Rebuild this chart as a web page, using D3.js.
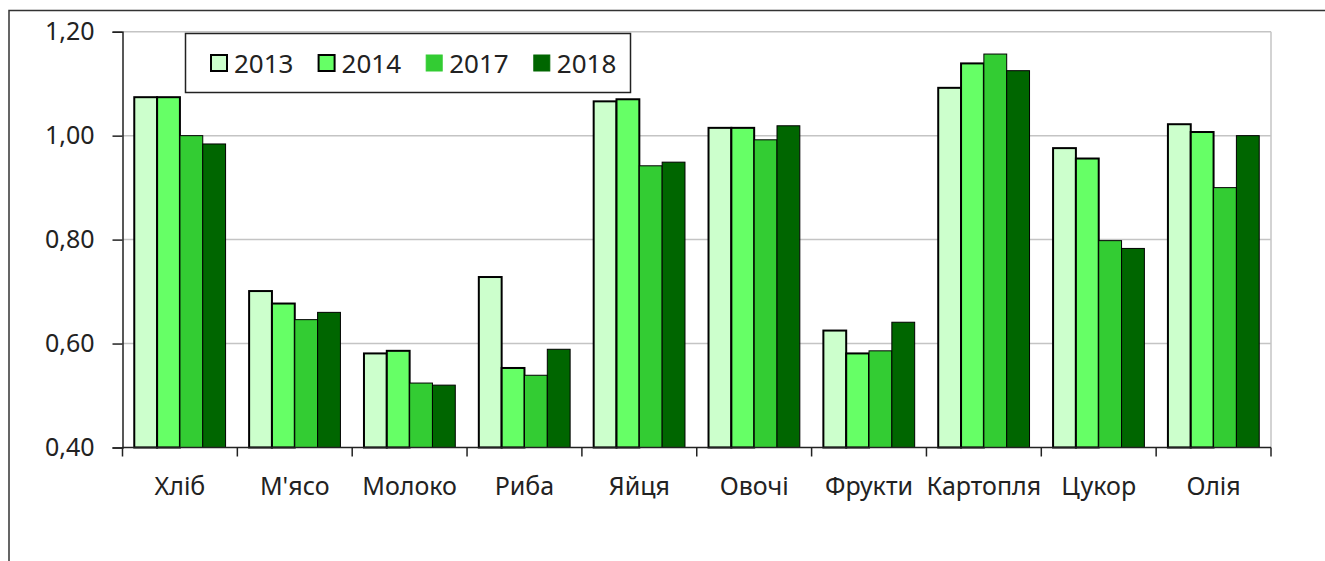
<!DOCTYPE html>
<html>
<head>
<meta charset="utf-8">
<script src="https://cdn.jsdelivr.net/npm/d3@7"></script>
<style>
  body { margin: 0; background: #fff; }
  svg { display: block; }
  text { font-family: "Noto Sans", "Open Sans", sans-serif; fill: #222; }
</style>
</head>
<body>
<div id="chart"></div>
<script>
// data
var categories = ["Хліб", "М'ясо", "Молоко", "Риба", "Яйця", "Овочі", "Фрукти", "Картопля", "Цукор", "Олія"];
var years = ["2013", "2014", "2017", "2018"];
var v2013 = [1.074, 0.701, 0.581, 0.728, 1.066, 1.015, 0.625, 1.092, 0.976, 1.022];
var v2014 = [1.074, 0.677, 0.586, 0.553, 1.070, 1.015, 0.581, 1.139, 0.956, 1.007];
var v2017 = [1.000, 0.646, 0.524, 0.539, 0.942, 0.992, 0.586, 1.157, 0.798, 0.900];
var v2018 = [0.984, 0.660, 0.520, 0.589, 0.949, 1.019, 0.641, 1.125, 0.783, 1.000];
var yTicks = [0.4, 0.6, 0.8, 1.0, 1.2];

var colors = ["#ccffcc", "#66ff66", "#33cc33", "#006600"];
var strokeW = [2, 2, 1, 1];

var W = 1325, H = 561;
var plot = {left: 122.5, right: 1271, top: 31.7, bottom: 447.5};

var svg = d3.select("#chart").append("svg")
  .attr("width", W).attr("height", H);

// outer frame (runs off the picture on the right and bottom)
svg.append("path")
  .attr("d", "M9," + (H + 5) + "V10.5H" + (W + 5))
  .attr("fill", "none").attr("stroke", "#333").attr("stroke-width", 1.5);

var series = [v2013, v2014, v2017, v2018];
var rows = categories.map(function(c, i) {
  return {cat: c, vals: years.map(function(y, k) { return {year: y, k: k, v: series[k][i]}; })};
});

var x0 = d3.scaleBand().domain(categories).range([plot.left, plot.right])
  .paddingInner(0.205).paddingOuter(0.1025);
var x1 = d3.scaleBand().domain(years).range([0, x0.bandwidth()]);
var y = d3.scaleLinear().domain([0.4, 1.2]).range([plot.bottom, plot.top]);

var fmt = function(d) { return d3.format(".2f")(d).replace(".", ","); };

// gridlines
svg.append("g").selectAll("line").data(yTicks.slice(1)).join("line")
  .attr("x1", plot.left).attr("x2", plot.right)
  .attr("y1", function(d) { return y(d); }).attr("y2", function(d) { return y(d); })
  .attr("stroke", "#c4c4c4").attr("stroke-width", 1.5);

// right border of plot area
svg.append("line")
  .attr("x1", plot.right).attr("x2", plot.right)
  .attr("y1", plot.top).attr("y2", plot.bottom)
  .attr("stroke", "#c4c4c4").attr("stroke-width", 1.5);

// bars
var groups = svg.append("g").selectAll("g").data(rows).join("g")
  .attr("transform", function(d) { return "translate(" + x0(d.cat) + ",0)"; });

groups.selectAll("rect").data(function(d) { return d.vals; }).join("rect")
  .attr("x", function(d) { return x1(d.year); })
  .attr("width", x1.bandwidth())
  .attr("y", function(d) { return y(d.v); })
  .attr("height", function(d) { return y(0.4) - y(d.v); })
  .attr("fill", function(d) { return colors[d.k]; })
  .attr("stroke", "#000")
  .attr("stroke-width", function(d) { return strokeW[d.k]; });

// y axis
var yAxis = svg.append("g")
  .attr("transform", "translate(" + plot.left + ",0)")
  .call(d3.axisLeft(y).tickValues(yTicks).tickFormat(fmt).tickSize(10).tickPadding(18));
yAxis.select(".domain").attr("stroke", "#222").attr("stroke-width", 1.5);
yAxis.selectAll(".tick line").attr("stroke", "#222").attr("stroke-width", 1.5);
yAxis.selectAll("text").style("font-size", "25px").attr("fill", "#222")
  .attr("font-family", "Noto Sans");

// x axis: ticks sit between categories
var xStep = x0.step();
var xAxis = svg.append("g");
xAxis.append("line")
  .attr("x1", plot.left).attr("x2", plot.right)
  .attr("y1", plot.bottom).attr("y2", plot.bottom)
  .attr("stroke", "#222").attr("stroke-width", 1.5);
xAxis.selectAll(".xt").data(d3.range(categories.length + 1)).join("line")
  .attr("class", "xt")
  .attr("x1", function(i) { return plot.left + i * xStep; })
  .attr("x2", function(i) { return plot.left + i * xStep; })
  .attr("y1", plot.bottom).attr("y2", plot.bottom + 9)
  .attr("stroke", "#222").attr("stroke-width", 1.5);
xAxis.selectAll("text").data(categories).join("text")
  .attr("x", function(d) { return x0(d) + x0.bandwidth() / 2; })
  .attr("y", 495)
  .attr("text-anchor", "middle")
  .style("font-size", "25px")
  .text(function(d) { return d; });

// legend
var legend = svg.append("g");
legend.append("rect")
  .attr("x", 185.5).attr("y", 33.5).attr("width", 445).attr("height", 59)
  .attr("fill", "#fff").attr("stroke", "#222").attr("stroke-width", 1.5);
var items = legend.selectAll("g").data(years).join("g")
  .attr("transform", function(d, i) { return "translate(" + (211 + i * 107.6) + ",55)"; });
items.append("rect")
  .attr("width", 16).attr("height", 16)
  .attr("fill", function(d, i) { return colors[i]; })
  .attr("stroke", function(d, i) { return i < 2 ? "#000" : colors[i]; })
  .attr("stroke-width", function(d, i) { return strokeW[i]; });
items.append("text")
  .attr("x", 23).attr("y", 17.5)
  .style("font-size", "26px")
  .text(function(d) { return d; });
</script>
</body>
</html>
